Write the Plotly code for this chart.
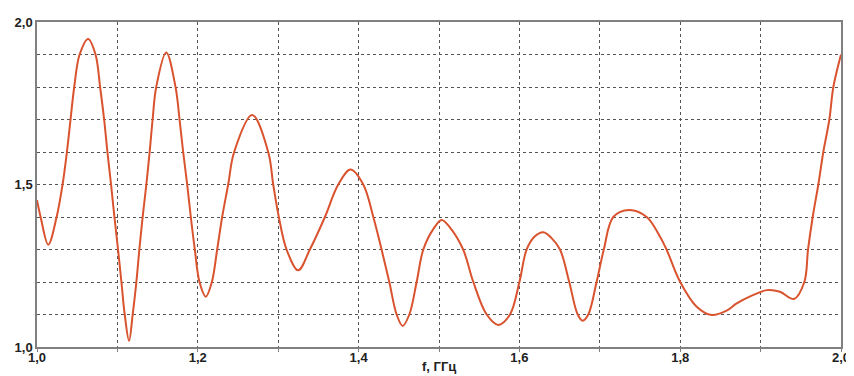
import plotly.graph_objects as go

freq = [1.000, 1.0045, 1.014, 1.0244, 1.0318, 1.0372, 1.0417, 1.0463, 1.0530, 1.0636,
        1.0728, 1.0785, 1.0835, 1.0876, 1.0921, 1.0963, 1.1008, 1.1050, 1.1091, 1.1145,
        1.1190, 1.1236, 1.1273, 1.1314, 1.1360, 1.1401, 1.1438, 1.1483, 1.1607,
        1.1723, 1.1773, 1.1818, 1.1868, 1.1913, 1.1963, 1.2021, 1.2100, 1.2175,
        1.2241, 1.2303, 1.2378, 1.2452, 1.2676, 1.2876, 1.2938, 1.3008,
        1.3104, 1.3249, 1.3394, 1.3581, 1.3747, 1.3900, 1.4058, 1.4183, 1.4286, 1.4382,
        1.4473, 1.4548, 1.4631, 1.4722, 1.4805, 1.4935, 1.5033, 1.5135, 1.5300, 1.5427,
        1.5593, 1.5738, 1.5883, 1.6000, 1.6090, 1.6190, 1.6298, 1.6400, 1.6505, 1.6620,
        1.6725, 1.6787, 1.6857, 1.6960, 1.7050, 1.7168, 1.7365, 1.7583,
        1.7749, 1.7830, 1.8000, 1.8205, 1.8392, 1.8578, 1.8703, 1.8890, 1.9075, 1.9241,
        1.9415, 1.9544, 1.9590, 1.9648, 1.9718, 1.9780, 1.9855, 1.9905, 2.0000]
vswr = [1.452, 1.40, 1.315, 1.40, 1.50, 1.60, 1.70, 1.80, 1.90, 1.948,
        1.90, 1.80, 1.70, 1.60, 1.50, 1.40, 1.30, 1.20, 1.10, 1.019,
        1.10, 1.20, 1.30, 1.40, 1.50, 1.60, 1.70, 1.80, 1.906,
        1.80, 1.70, 1.60, 1.50, 1.40, 1.30, 1.20, 1.155, 1.20,
        1.30, 1.40, 1.50, 1.60, 1.714, 1.60, 1.50, 1.40,
        1.30, 1.236, 1.30, 1.40, 1.50, 1.546, 1.50, 1.40, 1.30, 1.20,
        1.10, 1.065, 1.10, 1.20, 1.30, 1.365, 1.391, 1.368, 1.30, 1.20,
        1.10, 1.068, 1.10, 1.20, 1.30, 1.34, 1.353, 1.335, 1.30, 1.20,
        1.10, 1.081, 1.10, 1.20, 1.30, 1.40, 1.4215, 1.40,
        1.3395, 1.30, 1.20, 1.124, 1.0985, 1.112, 1.134, 1.158, 1.175, 1.170,
        1.1477, 1.20, 1.30, 1.40, 1.50, 1.60, 1.70, 1.80, 1.90]

x_grid = [1.0, 1.1, 1.2, 1.3, 1.4, 1.5, 1.6, 1.7, 1.8, 1.9, 2.0]
x_labels = ["1,0", "", "1,2", "", "1,4", "", "1,6", "", "1,8", "", "2,0"]
y_grid = [1.0, 1.1, 1.2, 1.3, 1.4, 1.5, 1.6, 1.7, 1.8, 1.9, 2.0]
y_labels = ["1,0", "", "", "", "", "1,5", "", "", "", "", "2,0"]
x_title = "f, ГГц"

FAMILY = "Liberation Sans, Arial, sans-serif"
font = dict(family=FAMILY, size=13, color="#222222")


def bold(labels):
    return ["<b>" + t + "</b>" if t else "" for t in labels]


fig = go.Figure()
fig.add_trace(go.Scatter(
    x=freq, y=vswr, mode="lines",
    line=dict(color="#d9532f", width=2, shape="spline", smoothing=1.0),
    showlegend=False, hoverinfo="skip"))

axis_common = dict(
    showgrid=True, gridcolor="#555555", gridwidth=1, griddash="dot",
    showline=True, linecolor="#808080", linewidth=1.5, mirror=True,
    zeroline=False, tickmode="array", automargin=False,
    tickfont=dict(family=FAMILY, size=13, color="#222222"),
)

fig.update_xaxes(range=[1.0, 2.0], tickvals=x_grid, ticktext=bold(x_labels),
                 ticks="outside", ticklen=3, tickcolor="#808080",
                 ticklabelstandoff=-5, **axis_common)
fig.update_yaxes(range=[1.0, 2.0], tickvals=y_grid, ticktext=bold(y_labels),
                 ticks="", **axis_common)

fig.add_annotation(x=1.5, y=0, xref="x", yref="paper", yanchor="middle", yshift=-19,
                   text="<b>" + x_title + "</b>", showarrow=False,
                   font=dict(family=FAMILY, size=13, color="#222222"))

# the page body adds an 8px offset, so the figure is sized to fit inside it
fig.update_layout(
    width=846, height=368,
    margin=dict(l=29, r=13, t=14, b=29),
    paper_bgcolor="white", plot_bgcolor="white",
    font=font,
)

fig.write_html("out.html")
